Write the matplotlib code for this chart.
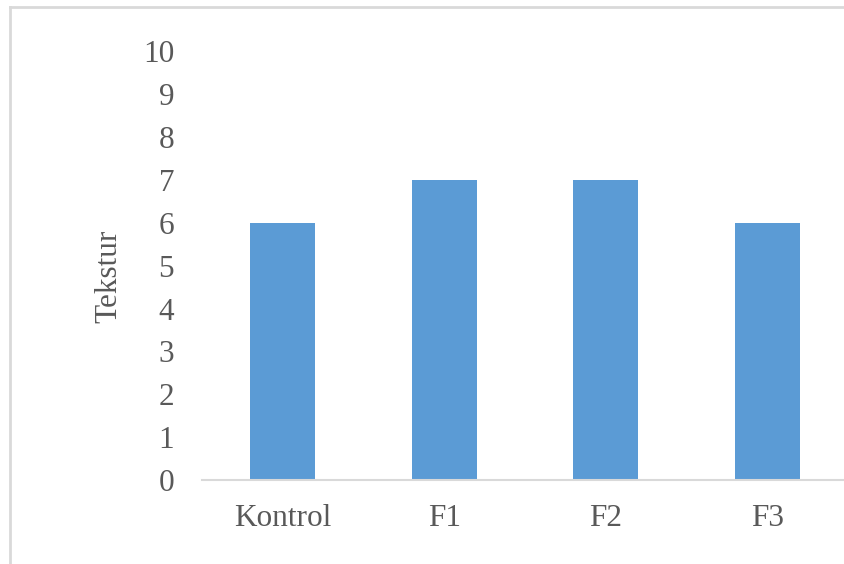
import matplotlib.pyplot as plt
from matplotlib.lines import Line2D

categories = ["Kontrol", "F1", "F2", "F3"]
tekstur = [6, 7, 7, 6]
y_ticks = list(range(0, 11))

bar_color = "#5b9bd5"
text_color = "#595959"
line_color = "#d9d9d9"

plt.rcParams["font.family"] = ["Liberation Serif", "DejaVu Serif"]

fig = plt.figure(figsize=(8.45, 5.64), dpi=100)
fig.patch.set_facecolor("white")

# chart frame (left and top edges visible)
W, H = 845, 564
fig.add_artist(Line2D([10 / W, 10 / W], [0, 1 - 7 / H], transform=fig.transFigure,
                      color=line_color, lw=2))
fig.add_artist(Line2D([10 / W, 1], [1 - 7 / H, 1 - 7 / H], transform=fig.transFigure,
                      color=line_color, lw=2))

ax = fig.add_axes([202 / W, 1 - 480 / H, 646 / W, (480 - 51.4) / H])
ax.bar(categories, tekstur, width=0.4, color=bar_color, zorder=2)

ax.set_xlim(-0.5, len(categories) - 0.5)
ax.set_ylim(0, 10)
ax.set_yticks(y_ticks)

for side in ["top", "right", "left"]:
    ax.spines[side].set_visible(False)
ax.spines["bottom"].set_color(line_color)
ax.spines["bottom"].set_linewidth(1.5)

ax.tick_params(axis="y", length=0, pad=20, labelsize=22.5, labelcolor=text_color)
ax.tick_params(axis="x", length=0, pad=17, labelsize=22.5, labelcolor=text_color)

ax.set_ylabel("Tekstur", fontsize=22.5, color=text_color)
ax.yaxis.set_label_coords(-0.121, 0.476)

plt.savefig("out.png", dpi=100)
